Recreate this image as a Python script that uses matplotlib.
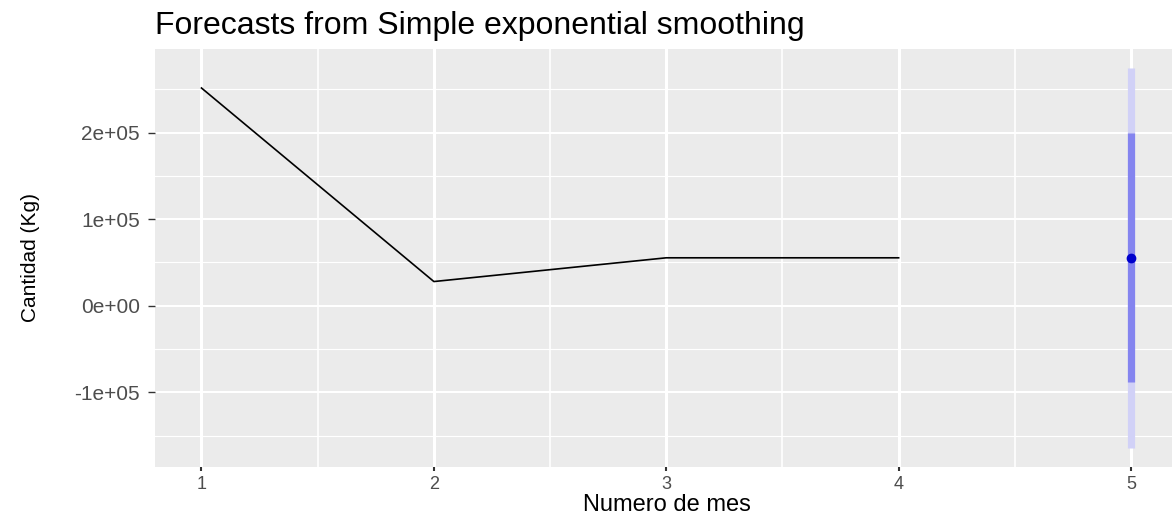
import matplotlib.pyplot as plt
import numpy as np
from matplotlib.ticker import FixedLocator

# observed series
months = [1, 2, 3, 4]
qty = [251400, 28000, 55400, 55400]

# forecast for month 5
fc_month = [5]
fc_mean = [55400]
lo80 = [-87700]
hi80 = [199500]
lo95 = [-163800]
hi95 = [274500]

x_ticks = [1, 2, 3, 4, 5]
y_ticks = [-100000, 0, 100000, 200000]
y_tick_labels = ["-1e+05", "0e+00", "1e+05", "2e+05"]

plt.rcParams["font.family"] = ["Liberation Sans", "DejaVu Sans"]

fig = plt.figure(figsize=(11.72, 5.17), dpi=100)
ax = fig.add_axes([155 / 1172, 1 - 466.7 / 517, 1022.5 / 1172, (466.7 - 49) / 517])
ax.set_facecolor("#EBEBEB")
for s in ax.spines.values():
    s.set_visible(False)

ax.plot(months, qty, color="black", lw=1.2, zorder=3)
ax.vlines(fc_month, lo95, hi95, color="#D1D1F7", lw=5.2, zorder=3)
ax.vlines(fc_month, lo80, hi80, color="#8484EF", lw=5.2, zorder=4)
ax.plot(fc_month, fc_mean, "o", color="#0000CC", ms=6, zorder=5)

# ggplot style 5% expansion
xr = max(x_ticks) - min(x_ticks)
ax.set_xlim(min(x_ticks) - 0.05 * xr, max(x_ticks) + 0.05 * xr)
ylo, yhi = min(lo95 + qty), max(hi95 + qty)
yr = yhi - ylo
ax.set_ylim(ylo - 0.05 * yr, yhi + 0.05 * yr)

ax.xaxis.set_major_locator(FixedLocator(x_ticks))
ax.xaxis.set_minor_locator(FixedLocator([1.5, 2.5, 3.5, 4.5]))
ax.yaxis.set_major_locator(FixedLocator(y_ticks))
ax.yaxis.set_minor_locator(FixedLocator([-150000, -50000, 50000, 150000, 250000]))
ax.set_yticklabels(y_tick_labels)

ax.grid(True, which="major", axis="x", color="white", lw=2.2)
ax.grid(True, which="minor", axis="x", color="white", lw=1.2)
ax.grid(True, which="major", axis="y", color="white", lw=1.5)
ax.grid(True, which="minor", axis="y", color="white", lw=0.8)
ax.set_axisbelow(True)

ax.tick_params(axis="x", which="major", length=3, width=1.5, color="#333333",
               labelsize=13, labelcolor="#4D4D4D", pad=4)
ax.tick_params(axis="y", which="major", length=5, width=1, color="#333333",
               labelsize=15, labelcolor="#4D4D4D", pad=6)
ax.tick_params(which="minor", length=0)

ax.set_ylabel("Cantidad (Kg)", fontsize=15)
ax.yaxis.set_label_coords(-0.112, 0.5)

fig.text(155 / 1172, 1 - 34 / 517, "Forecasts from Simple exponential smoothing",
         fontsize=23, ha="left", va="baseline")
fig.text(667 / 1172, 1 - 511 / 517, "Numero de mes", fontsize=17,
         ha="center", va="baseline")

fig.savefig("out.png", dpi=100)
